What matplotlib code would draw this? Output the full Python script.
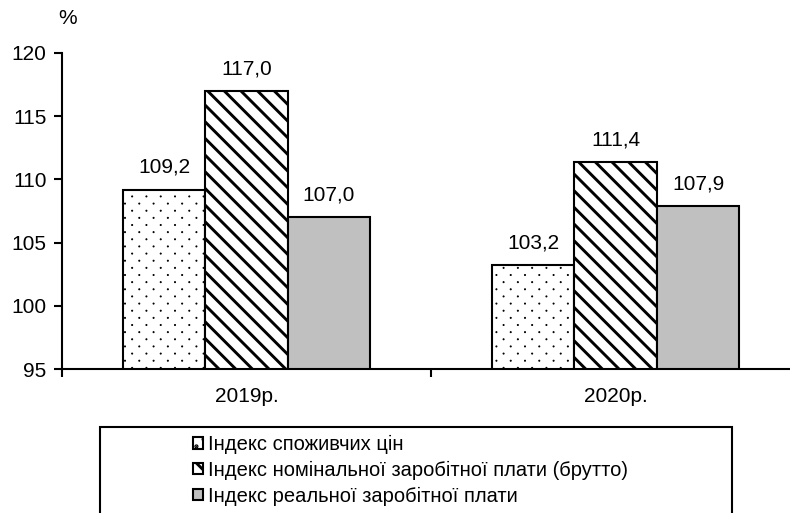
import numpy as np
import matplotlib.pyplot as plt
import matplotlib.hatch as mhatch
from matplotlib.path import Path
from matplotlib.patches import Rectangle

plt.rcParams['font.family'] = ['Liberation Sans', 'DejaVu Sans']

years = ['2019р.', '2020р.']
cpi = [109.2, 103.2]
nominal = [117.0, 111.4]
real = [107.0, 107.9]
series_names = ['Індекс споживчих цін',
                'Індекс номінальної заробітної плати (брутто)',
                'Індекс реальної заробітної плати']


# sparse dot fill (like the Excel one): 7 dots per row, 14 staggered rows per inch
class SparseDots(mhatch.HatchPatternBase):
    def __init__(self, hatch, density):
        circle = Path.unit_circle()
        self.shape_vertices = circle.vertices * 0.006
        self.shape_codes = circle.codes
        self.points = []
        if '.' in hatch:
            for r in range(14):
                shift = 0.5 / 7 if r % 2 else 0
                for c in range(7):
                    self.points.append(((c + 0.25) / 7 + shift, (r + 0.5) / 14))
        self.num_vertices = len(self.points) * len(self.shape_vertices)

    def set_vertices_and_codes(self, vertices, codes):
        n = len(self.shape_vertices)
        for i, (px, py) in enumerate(self.points):
            vertices[i * n:(i + 1) * n] = self.shape_vertices + (px, py)
            codes[i * n:(i + 1) * n] = self.shape_codes


mhatch._hatch_types[mhatch._hatch_types.index(mhatch.SmallFilledCircles)] = SparseDots

fig = plt.figure(figsize=(7.9, 5.13), dpi=100)
ax = fig.add_axes([62 / 790, 144 / 513, 738 / 790, 316 / 513])

x = np.arange(len(years))
w = 0.2236

plt.rcParams['hatch.linewidth'] = 0.6
b1 = ax.bar(x - w, cpi, w, color='white', edgecolor='black', linewidth=1.5, hatch='.', label=series_names[0])
plt.rcParams['hatch.linewidth'] = 2.1
b2 = ax.bar(x, nominal, w, color='white', edgecolor='black', linewidth=1.5, hatch='\\\\', label=series_names[1])
b3 = ax.bar(x + w, real, w, color='#c0c0c0', edgecolor='black', linewidth=1.5, label=series_names[2])
if hasattr(b1[0], 'set_hatch_linewidth'):
    for b in b1:
        b.set_hatch_linewidth(0.6)
    for b in b2:
        b.set_hatch_linewidth(2.1)

for bars in (b1, b2, b3):
    for rect in bars:
        v = rect.get_height()
        ax.annotate(('%.1f' % v).replace('.', ','),
                    (rect.get_x() + rect.get_width() / 2, v),
                    xytext=(0, 12), textcoords='offset points',
                    ha='center', va='baseline', fontsize=15)

ax.set_ylim(95, 120)
ax.set_yticks(range(95, 121, 5))
ax.set_xlim(-0.5, 1.5)
ax.set_xticks(x)
ax.set_xticklabels(years, fontsize=15)
ax.set_xticks([-0.5, 0.5, 1.5], minor=True)
ax.tick_params(axis='x', which='major', length=0, pad=13)
ax.tick_params(axis='x', which='minor', length=6, width=1.5, direction='out')
ax.tick_params(axis='y', labelsize=15, length=6, width=1.5, direction='out', pad=5)
ax.spines['top'].set_visible(False)
ax.spines['right'].set_visible(False)
ax.spines['left'].set_linewidth(1.5)
ax.spines['bottom'].set_linewidth(1.5)

fig.text(68 / 790, 1 - 18 / 513, '%', fontsize=15, ha='center', va='center')

# legend frame (runs off the bottom of the picture) and entries
fig.patches.append(Rectangle((100 / 790, -0.05), 632 / 790, 0.05 + 86 / 513,
                             transform=fig.transFigure, fill=False,
                             edgecolor='black', linewidth=1.5))
fig.legend(handles=[b1, b2, b3], labels=series_names, loc='upper left',
           bbox_to_anchor=(185 / 790, 1 - 427 / 513), frameon=False,
           fontsize=14.5, handlelength=0.5, handleheight=0.5,
           handletextpad=0.25, labelspacing=0.33, borderaxespad=0)

fig.savefig('out.png', dpi=100)
